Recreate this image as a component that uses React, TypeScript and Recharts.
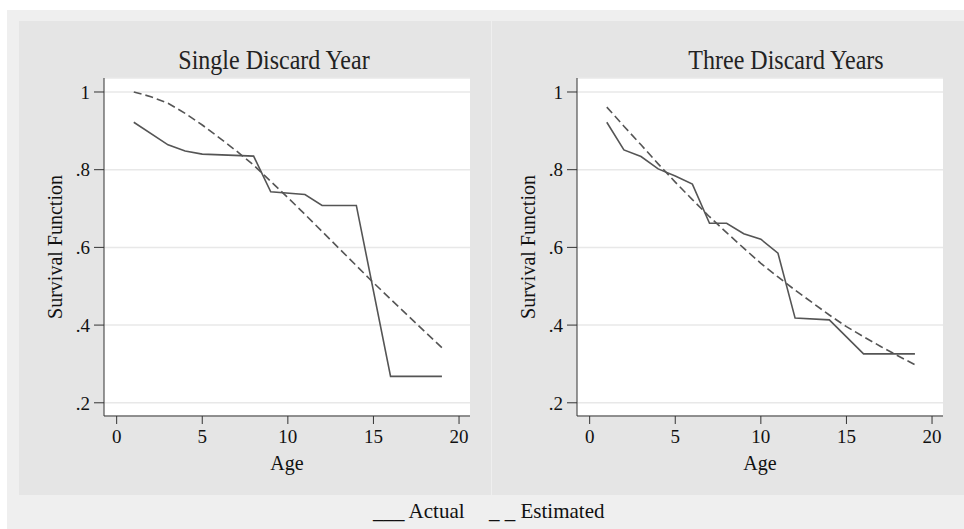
import React from 'react';
import { LineChart, Line, XAxis, YAxis, CartesianGrid } from 'recharts';

// Single discard year
const singleActualAge = [1, 3, 4, 5, 8, 9, 11, 12, 14, 16, 19];
const singleActual = [0.922, 0.864, 0.848, 0.84, 0.835, 0.743, 0.736, 0.708, 0.708, 0.268, 0.268];
const singleEstAge = [1, 2, 3, 4, 5, 6, 7, 8, 9, 10, 11, 12, 13, 14, 15, 16, 17, 18, 19];
const singleEst = [1.0, 0.988, 0.971, 0.945, 0.915, 0.882, 0.848, 0.812, 0.77, 0.728, 0.685, 0.641, 0.597, 0.553, 0.509, 0.467, 0.425, 0.383, 0.342];

// Three discard years
const threeActualAge = [1, 2, 3, 4, 5, 6, 7, 8, 9, 10, 11, 12, 14, 16, 19];
const threeActual = [0.922, 0.851, 0.834, 0.802, 0.784, 0.763, 0.662, 0.662, 0.635, 0.621, 0.585, 0.418, 0.4135, 0.326, 0.326];
const threeEstAge = [1, 2, 3, 4, 5, 6, 7, 8, 9, 10, 11, 12, 13, 14, 15, 16, 17, 18, 19];
const threeEst = [0.961, 0.912, 0.864, 0.815, 0.768, 0.723, 0.679, 0.638, 0.598, 0.559, 0.524, 0.49, 0.458, 0.426, 0.396, 0.37, 0.345, 0.321, 0.298];

const xTicks = [0, 5, 10, 15, 20];
const yTicks = [0.2, 0.4, 0.6, 0.8, 1];

const FONT = '"Liberation Serif", "Times New Roman", serif';
const LINE = '#555555';

const toPoints = (ages: number[], vals: number[]) => ages.map((age, i) => ({ age, value: vals[i] }));

const fmtY = (v: number) => (v === 1 ? '1' : String(v).replace(/^0/, ''));

interface PanelProps {
  title: string;
  actual: { age: number; value: number }[];
  estimated: { age: number; value: number }[];
  left: number;
  width: number;
  titleX: number;
}

const Panel: React.FC<PanelProps> = ({ title, actual, estimated, left, width, titleX }) => {
  const plotLeft = 85;
  const plotRight = width - 21;
  const plotCenter = (plotLeft + plotRight) / 2;
  return (
    <div style={{ position: 'absolute', left, top: 21, width, height: 474, background: '#e5e5e5' }}>
      <LineChart width={width} height={474} margin={{ top: 57, right: 21, bottom: 49, left: 45 }}>
        <CartesianGrid vertical={false} stroke="#e8e8e8" strokeWidth={1.5} fill="#ffffff" />
        <XAxis
          type="number"
          dataKey="age"
          domain={[-0.74, 20.64]}
          ticks={xTicks}
          allowDataOverflow
          height={30}
          tickSize={8}
          tickMargin={6}
          stroke="#333"
          tick={{ fill: '#111', fontFamily: FONT, fontSize: 19 }}
        />
        <YAxis
          type="number"
          dataKey="value"
          domain={[0.166, 1.036]}
          ticks={yTicks}
          allowDataOverflow
          width={40}
          tickSize={10}
          tickMargin={4}
          tickFormatter={fmtY}
          stroke="#333"
          tick={{ fill: '#111', fontFamily: FONT, fontSize: 19 }}
        />
        <Line data={actual} dataKey="value" stroke={LINE} strokeWidth={1.6} dot={false} isAnimationActive={false} />
        <Line data={estimated} dataKey="value" stroke={LINE} strokeWidth={1.6} strokeDasharray="8 4" dot={false} isAnimationActive={false} />
      </LineChart>
      <div
        style={{
          position: 'absolute', left: titleX - 150, width: 300, top: 24, textAlign: 'center',
          fontFamily: FONT, fontSize: 24, color: '#222', lineHeight: '30px', transform: 'scaleY(1.15)',
        }}
      >
        {title}
      </div>
      <div
        style={{
          position: 'absolute', left: 36 - 120, width: 240, top: 226 - 12, transform: 'rotate(-90deg)',
          textAlign: 'center', fontFamily: FONT, fontSize: 20, color: '#111', lineHeight: '24px',
        }}
      >
        Survival Function
      </div>
      <div
        style={{
          position: 'absolute', left: plotCenter - 50, width: 100, top: 430, textAlign: 'center',
          fontFamily: FONT, fontSize: 20, color: '#111', lineHeight: '24px',
        }}
      >
        Age
      </div>
    </div>
  );
};

const legendText = { position: 'absolute' as const, top: 498, whiteSpace: 'pre' as const, fontFamily: FONT, fontSize: 21, color: '#111', lineHeight: '26px' };

export default function App() {
  return (
    <div style={{ position: 'absolute', left: 0, top: 0, width: 964, height: 529, background: '#ffffff', overflow: 'hidden' }}>
      <div style={{ position: 'absolute', left: 7, top: 10, width: 957, height: 519, background: '#efefef' }} />
      <Panel title="Single Discard Year" actual={toPoints(singleActualAge, singleActual)} estimated={toPoints(singleEstAge, singleEst)} left={19} width={472} titleX={255} />
      <Panel title="Three Discard Years" actual={toPoints(threeActualAge, threeActual)} estimated={toPoints(threeEstAge, threeEst)} left={492} width={472} titleX={294} />
      <div style={{ ...legendText, left: 373 }}>{'___ Actual'}</div>
      <div style={{ ...legendText, left: 489 }}>{'_ _ Estimated'}</div>
    </div>
  );
}
